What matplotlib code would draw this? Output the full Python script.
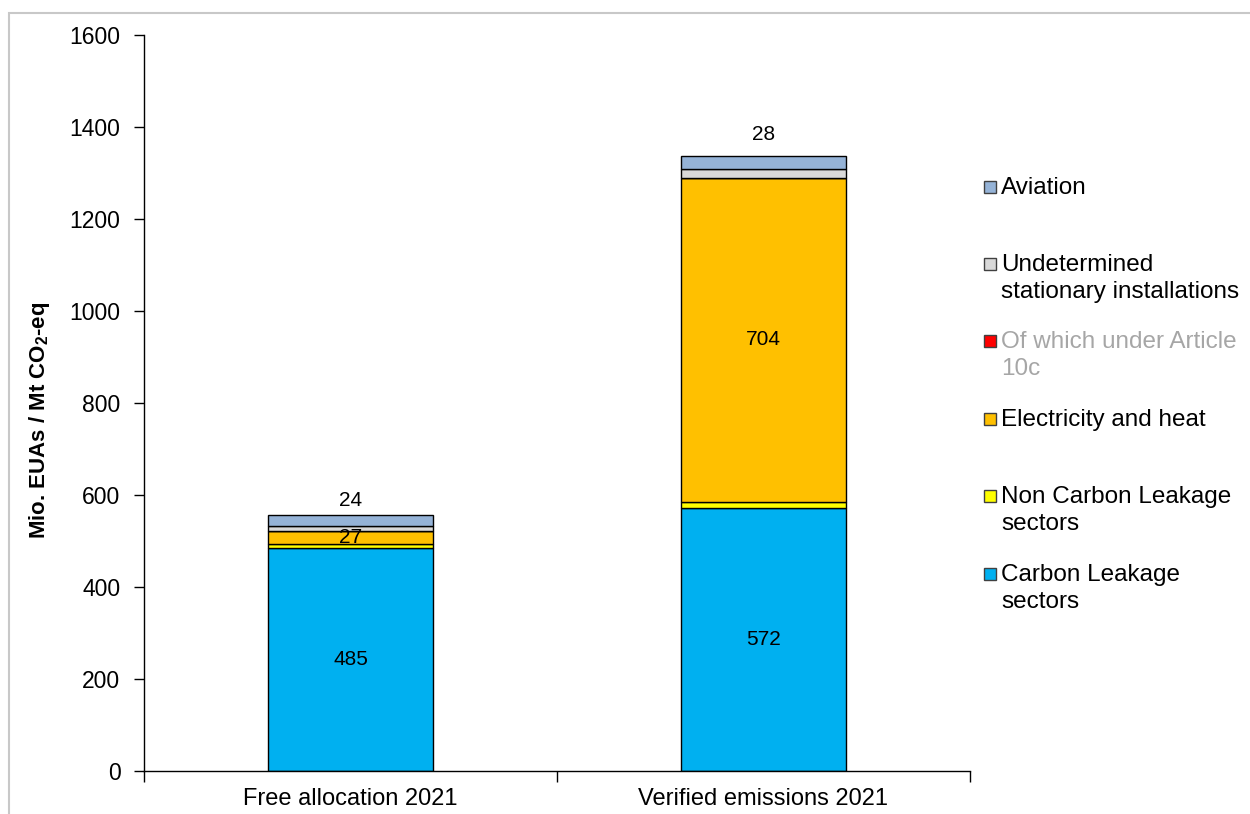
import matplotlib
matplotlib.use("Agg")
import matplotlib.pyplot as plt
from matplotlib.patches import Rectangle
import numpy as np

plt.rcParams['font.family'] = ['Liberation Sans', 'DejaVu Sans']
plt.rcParams['mathtext.fontset'] = 'custom'
plt.rcParams['mathtext.rm'] = 'Liberation Sans'
plt.rcParams['mathtext.bf'] = 'Liberation Sans:bold'

# categories and stacked series (Mio. EUAs / Mt CO2-eq), bottom to top
categories = ['Free allocation 2021', 'Verified emissions 2021']
carbon_leakage = [485, 572]
non_carbon_leakage = [9, 13]
electricity_heat = [27, 704]
article_10c = [0, 0]
undetermined = [11, 20]
aviation = [24, 28]

series_names = ['Carbon Leakage\nsectors', 'Non Carbon Leakage\nsectors', 'Electricity and heat',
                'Of which under Article\n10c', 'Undetermined\nstationary installations', 'Aviation']
series_values = [carbon_leakage, non_carbon_leakage, electricity_heat, article_10c, undetermined, aviation]
series_colors = ['#00B0F0', '#FFFF00', '#FFC000', '#FF0000', '#D9D9D9', '#95B3D7']
legend_text_colors = ['black', 'black', 'black', '#A6A6A6', 'black', 'black']

# which segments carry an inside label, and the value printed on top of each bar
inside_labels = {0: True, 2: True}
top_labels = aviation

fig = plt.figure(figsize=(12.5, 8.14), dpi=100)
ax = fig.add_axes([144 / 1250, 1 - 771 / 814, (970 - 144) / 1250, (771 - 35) / 814])

x = np.arange(len(categories))
bottom = np.zeros(len(categories))
for i, (vals, col) in enumerate(zip(series_values, series_colors)):
    vals = np.array(vals, dtype=float)
    ax.bar(x, vals, 0.4, bottom=bottom, color=col, edgecolor='black', linewidth=1.0, zorder=2)
    if i in inside_labels:
        for xi, b, v in zip(x, bottom, vals):
            ax.text(xi, b + v / 2, f'{v:.0f}', ha='center', va='center', fontsize=15)
    bottom += vals

label_pad = [32, 47]
for xi, total, v, pad in zip(x, bottom, top_labels, label_pad):
    ax.text(xi, total + pad, f'{v}', ha='center', va='center', fontsize=15)

ax.set_xlim(-0.5, 1.5)
ax.set_ylim(0, 1600)
ax.set_yticks(np.arange(0, 1601, 200))
ax.set_xticks(x)
ax.set_xticklabels(categories)
ax.set_xticks([-0.5, 0.5, 1.5], minor=True)
ax.tick_params(axis='x', which='major', length=0, pad=12, labelsize=17)
ax.tick_params(axis='x', which='minor', length=8, width=1, direction='out')
ax.tick_params(axis='y', length=7, width=1, direction='out', pad=10, labelsize=16.5)
for s in ['top', 'right']:
    ax.spines[s].set_visible(False)
for s in ['left', 'bottom']:
    ax.spines[s].set_linewidth(1)

fig.text(40 / 1250, 1 - 420 / 814, r'Mio. EUAs / Mt CO$_{\mathbf{2}}$-eq', rotation=90,
         ha='center', va='center', fontsize=16, fontweight='bold')

# legend drawn by hand so each marker sits on the first line of its text
W, H = 1250, 814
first_line_y = [187, 264, 341, 419, 496, 574]
for k, y in enumerate(first_line_y):
    idx = len(series_names) - 1 - k
    fig.patches.append(Rectangle((984 / W, 1 - (y + 6) / H), 12 / W, 12 / H,
                                 transform=fig.transFigure, facecolor=series_colors[idx],
                                 edgecolor='#404040', linewidth=1))
    fig.text(1001 / W, 1 - (y - 10) / H, series_names[idx], ha='left', va='top',
             fontsize=17.5, color=legend_text_colors[idx], linespacing=1.3)

# light frame around the chart area
fig.patches.append(Rectangle((9 / W, -0.1), 1.2, 1.1 - 13 / H, transform=fig.transFigure,
                             fill=False, edgecolor='#C8C8C8', linewidth=1.5))

fig.savefig('out.png', dpi=100)
